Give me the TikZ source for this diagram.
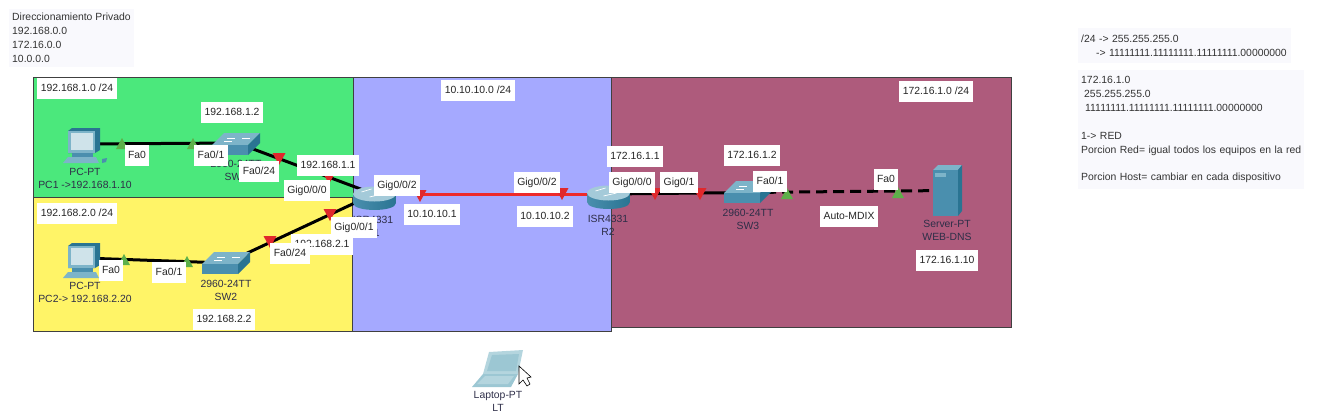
\documentclass[tikz,border=0pt]{standalone}
\usepackage{fontspec}
\setmainfont{Liberation Sans}

\definecolor{zonegreen}{HTML}{4BE87C}
\definecolor{zoneyellow}{HTML}{FFF467}
\definecolor{zoneblue}{HTML}{A5A9FF}
\definecolor{zonemauve}{HTML}{AE5B7C}
\definecolor{linkred}{HTML}{EE2A2A}
\definecolor{markred}{HTML}{E0282C}
\definecolor{markgreen}{HTML}{5DB04A}
\definecolor{notebg}{HTML}{F9F9FD}
\definecolor{devtext}{HTML}{2E2E48}
\definecolor{cisco}{HTML}{4A8FAE}
\definecolor{ciscotop}{HTML}{7DB4C9}
\definecolor{ciscodark}{HTML}{2A7492}
\definecolor{ciscolight}{HTML}{CFE3EA}
\definecolor{laptopc}{HTML}{B4D5DE}
\definecolor{laptopd}{HTML}{9CC7D3}

\tikzset{
  zone/.style={draw=black!75,line width=0.9pt},
  devnode/.style={inner sep=0pt,minimum size=0pt},
  link/.style={black,line width=3pt},
  redlink/.style={linkred,line width=3pt},
  devlabel/.style={text=devtext,font=\fontsize{10.4}{13}\selectfont,inner sep=0pt,align=center},
  lbl/.style={fill=white,text=black!85,font=\fontsize{10.4}{12}\selectfont,
    text height=8pt,text depth=2pt,inner xsep=3.5pt,inner ysep=5.5pt},
  note/.style={fill=notebg,text=black!80,font=\fontsize{10.4}{14}\selectfont,anchor=north west,
    align=left,inner xsep=3pt,inner ysep=4pt},
  redmark/.pic={\fill[markred] (-6.5,-6) -- (6.5,-6) -- (0,6) -- cycle;},
  greenmark/.pic={\fill[markgreen] (-6,5) -- (6,5) -- (0,-6) -- cycle;},
  switchicon/.pic={
    \fill[ciscotop] (0,12) -- (12,0) -- (48,0) -- (36,12) -- cycle;
    \fill[cisco] (0,12) rectangle (36,22);
    \fill[ciscodark] (36,12) -- (48,0) -- (48,10) -- (36,22) -- cycle;
    \draw[white,line width=0.4pt] (15,5) -- (23,5) (30,5) -- (38,5) (12,8) -- (20,8);
  },
  routericon/.pic={
    \shade[left color=cisco,middle color=ciscolight,right color=ciscodark]
      (-21.5,0) -- (-21.5,9) .. controls (-21.5,18.3) and (21.5,18.3) .. (21.5,9)
      -- (21.5,0) -- cycle;
    \fill[ciscotop!70!white] (0,0) ellipse[x radius=21.5,y radius=7.5];
    \draw[white,line width=0.7pt] (-13,-2) -- (-3,-5) (-5,3) -- (8,0);
  },
  pcicon/.pic={
    \fill[ciscodark] (6,3) -- (10,0) -- (38,0) -- (38,22) -- (33,25) -- (6,25) -- cycle;
    \fill[ciscotop] (6,3) rectangle (33,25);
    \fill[ciscolight] (9,5) rectangle (31,22);
    \fill[cisco] (10,25) rectangle (31,29);
    \fill[ciscotop] (6,29) -- (34,29) -- (37,35) -- (1,35) -- cycle;
    \fill[cisco] (40,31) -- (45,30) -- (44,34) -- (40,35) -- cycle;
  },
  servericon/.pic={
    \fill[ciscotop] (0,5) -- (5,0) -- (29,0) -- (25,5) -- cycle;
    \fill[cisco] (0,5) rectangle (25,51);
    \fill[ciscodark] (25,5) -- (29,0) -- (29,46) -- (25,51) -- cycle;
    \fill[ciscotop] (2,8) rectangle (13,12);
  },
  laptopicon/.pic={
    \fill[laptopc] (17,2) -- (51,0) -- (46,24) -- (11,24) -- cycle;
    \fill[laptopd] (20,5) -- (47,4) -- (44,21) -- (15,21) -- cycle;
    \fill[laptopd] (11,24) -- (46,24) -- (39,37) -- (0,37) -- cycle;
    \fill[laptopc] (13,26) -- (42,26) -- (36,34) -- (5,34) -- cycle;
  },
}

\begin{document}
\begin{tikzpicture}[x=1pt,y=-1pt]
  \useasboundingbox (0,0) rectangle (1319,416);

  % redes
  \draw[zone,fill=zoneblue] (352,77) rectangle (611,331);
  \draw[zone,fill=zonegreen] (33,77) rectangle (353,197);
  \draw[zone,fill=zoneyellow] (33,197) rectangle (352,331);
  \draw[zone,fill=zonemauve] (611,77) rectangle (1011,327);

  \node[devnode] (pc1) at (83,144) {};
  \node[devnode] (sw1) at (237,143) {};
  \node[devnode] (pc2) at (83,258) {};
  \node[devnode] (sw2) at (226,263) {};
  \node[devnode] (r1) at (374,194) {};
  \node[devnode] (r2) at (608,194) {};
  \node[devnode] (sw3) at (748,192.5) {};
  \node[devnode] (srv) at (947,190.5) {};

  \draw[link] (pc1) -- (sw1);
  \draw[link] (sw1) -- (r1);
  \draw[link] (pc2) -- (sw2);
  \draw[link] (sw2) -- (r1);
  \draw[redlink] (r1) -- (r2);
  \draw[link] (r2) -- (sw3);
  \draw[link,dash pattern=on 11pt off 6pt] (sw3) -- (srv);

  % marcas de enlace
  \pic at (122,144) {greenmark};
  \pic at (193,144) {greenmark};
  \pic at (124,260) {greenmark};
  \pic at (187,262) {greenmark};
  \pic at (787,194) {greenmark};
  \pic at (898,193) {greenmark};
  \pic at (279,159) {redmark};
  \pic at (329,178) {redmark};
  \pic at (270,242) {redmark};
  \pic at (330,215) {redmark};
  \pic at (420,196) {redmark};
  \pic at (562,194) {redmark};
  \pic at (655,194) {redmark};
  \pic at (700,194) {redmark};

  % equipos
  \pic at (62,128) {pcicon};
  \pic at (62,243) {pcicon};
  \pic at (212,133) {switchicon};
  \pic at (202,252) {switchicon};
  \pic at (724,181) {switchicon};
  \pic at (374.5,194) {routericon};
  \pic at (608.5,193) {routericon};
  \pic at (933,165) {servericon};
  \pic at (472,350) {laptopicon};
  \draw[fill=white,line width=0.6pt] (519,366) -- (519,384) -- (523,380) -- (527,386)
    -- (530,384) -- (527,378) -- (531,377) -- cycle;

  \node[devlabel] (pc1t) at (85,178) {PC-PT\\PC1 ->192.168.1.10};
  \node[devlabel] (sw1t) at (236,170) {2960-24TT\\SW1};
  \node[devlabel] (pc2t) at (85,292) {PC-PT\\PC2-> 192.168.2.20};
  \node[devlabel] (sw2t) at (226,290) {2960-24TT\\SW2};
  \node[devlabel] (r1t) at (373,226) {ISR4331\\R1};
  \node[devlabel] (r2t) at (608,225) {ISR4331\\R2};
  \node[devlabel] (sw3t) at (748,219) {2960-24TT\\SW3};
  \node[devlabel] (srvt) at (947,230.5) {Server-PT\\WEB-DNS};
  \node[devlabel] (ltt) at (498,401.5) {Laptop-PT\\LT};

  % etiquetas
  \node[lbl] (net1) at (77,88.5) {192.168.1.0 /24};
  \node[lbl] (ip12) at (232,112) {192.168.1.2};
  \node[lbl] (p1a) at (137,155) {Fa0};
  \node[lbl] (p1b) at (211,155) {Fa0/1};
  \node[lbl] (p1c) at (259,171) {Fa0/24};
  \node[lbl] (ip11) at (328,165.5) {192.168.1.1};
  \node[lbl] (p1d) at (307,190) {Gig0/0/0};
  \node[lbl] (net2) at (77,213) {192.168.2.0 /24};
  \node[lbl] (ip21) at (322,244) {192.168.2.1};
  \node[lbl] (p2a) at (111,270) {Fa0};
  \node[lbl] (p2b) at (169,272) {Fa0/1};
  \node[lbl] (p2c) at (290,253) {Fa0/24};
  \node[lbl] (p2d) at (354,227) {Gig0/0/1};
  \node[lbl] (ip22) at (224,319) {192.168.2.2};
  \node[lbl] (net3) at (478,90) {10.10.10.0 /24};
  \node[lbl] (p3a) at (397,185.5) {Gig0/0/2};
  \node[lbl] (ip31) at (432,214.5) {10.10.10.1};
  \node[lbl] (p3b) at (537,182.5) {Gig0/0/2};
  \node[lbl] (ip32) at (545,216.5) {10.10.10.2};
  \node[lbl] (net4) at (936,91) {172.16.1.0 /24};
  \node[lbl] (ip41) at (635,156) {172.16.1.1};
  \node[lbl] (p4a) at (632,182.5) {Gig0/0/0};
  \node[lbl] (p4b) at (679,182) {Gig0/1};
  \node[lbl] (ip42) at (752,155) {172.16.1.2};
  \node[lbl] (p4c) at (770,181.5) {Fa0/1};
  \node[lbl] (p4d) at (886,179) {Fa0};
  \node[lbl] (mdix) at (849,216.5) {Auto-MDIX};
  \node[lbl] (ip43) at (947,260) {172.16.1.10};

  % notas
  \node[note] (privado) at (9,9) {Direccionamiento Privado\\192.168.0.0\\172.16.0.0\\10.0.0.0};
  \node[note,text width=207pt,inner ysep=6.5pt] (mascara) at (1078,28)
    {/24 -> 255.255.255.0\\\hspace*{15pt}-> 11111111.11111111.11111111.00000000};
  \node[note,text width=220pt,inner ysep=6pt] (porcion) at (1078,70)
    {172.16.1.0\\\hspace*{3pt}255.255.255.0\\\hspace*{4pt}11111111.11111111.11111111.00000000\\[14pt]
     1-> RED\\Porcion Red= igual todos los equipos en la red\\[13pt]Porcion Host= cambiar en cada dispositivo};
\end{tikzpicture}
\end{document}
